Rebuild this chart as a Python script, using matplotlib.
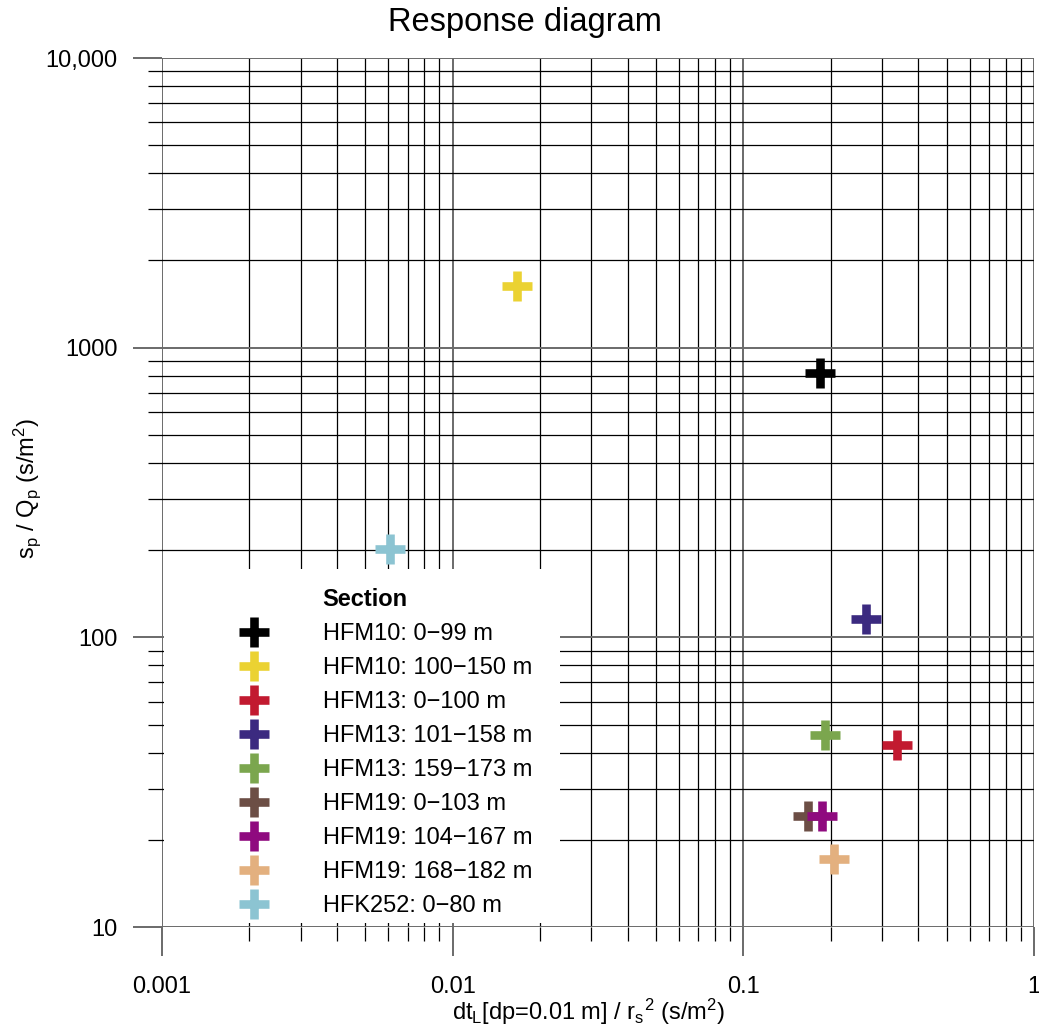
import matplotlib
matplotlib.use("Agg")
import matplotlib.pyplot as plt
from matplotlib.lines import Line2D
from matplotlib.patches import Rectangle
from matplotlib.ticker import FixedLocator, FixedFormatter, LogLocator, NullFormatter

plt.rcParams['font.family'] = ['Liberation Sans', 'DejaVu Sans']
plt.rcParams['mathtext.fontset'] = 'custom'
plt.rcParams['mathtext.rm'] = 'Liberation Sans'
plt.rcParams['mathtext.it'] = 'Liberation Sans:italic'
plt.rcParams['mathtext.default'] = 'regular'

# ---- data ----
sections = ["HFM10: 0\u221299 m", "HFM10: 100\u2212150 m", "HFM13: 0\u2212100 m",
            "HFM13: 101\u2212158 m", "HFM13: 159\u2212173 m", "HFM19: 0\u2212103 m",
            "HFM19: 104\u2212167 m", "HFM19: 168\u2212182 m", "HFK252: 0\u221280 m"]
dtL = [0.183, 0.0166, 0.338, 0.264, 0.191, 0.167, 0.186, 0.205, 0.0061]
spQp = [817, 1632, 42.5, 116, 46.0, 24.2, 24.2, 17.2, 202]
colors = ["#000000", "#EBD232", "#C21A30", "#3B2A80", "#7BA64E",
          "#6C4E45", "#8F0A7F", "#E3B07F", "#8CC4D2"]

x_ticks = [0.001, 0.01, 0.1, 1]
x_ticklabels = ["0.001", "0.01", "0.1", "1"]
y_ticks = [10, 100, 1000, 10000]
y_ticklabels = ["10", "100", "1000", "10,000"]

W, H = 1039, 1030
fig = plt.figure(figsize=(W / 100, H / 100), dpi=100)
L, R, T, B = 162, 1034, 58, 927
ax = fig.add_axes([L / W, 1 - B / H, (R - L) / W, (B - T) / H])
ax.set_xscale('log')
ax.set_yscale('log')
ax.set_xlim(0.001, 1)
ax.set_ylim(10, 10000)
for s in ax.spines.values():
    s.set_visible(False)

ax.xaxis.set_major_locator(FixedLocator(x_ticks))
ax.xaxis.set_major_formatter(FixedFormatter(x_ticklabels))
ax.yaxis.set_major_locator(FixedLocator(y_ticks))
ax.yaxis.set_major_formatter(FixedFormatter(y_ticklabels))
ax.xaxis.set_minor_locator(LogLocator(base=10, subs=range(2, 10)))
ax.yaxis.set_minor_locator(LogLocator(base=10, subs=range(2, 10)))
ax.xaxis.set_minor_formatter(NullFormatter())
ax.yaxis.set_minor_formatter(NullFormatter())

maj_c, maj_w = '#6a6a6a', 1.4
min_c, min_w = '#000000', 0.9
ax.grid(which='major', color=maj_c, lw=maj_w)
ax.grid(which='minor', color=min_c, lw=min_w)
ax.set_axisbelow(True)
ax.tick_params(which='major', direction='out', length=21, width=maj_w, color=maj_c,
               labelsize=17)
ax.tick_params(which='minor', direction='out', length=10, width=min_w, color=min_c)
ax.tick_params(axis='x', which='major', pad=14)
ax.tick_params(axis='y', which='major', pad=11)

# white legend background covering the grid
bg = Rectangle((164 / W, 1 - 923 / H), (560 - 164) / W, (923 - 569) / H,
               transform=fig.transFigure, facecolor='white', edgecolor='none', zorder=1)
ax.add_artist(bg)

for xv, yv, c, lab in zip(dtL, spQp, colors, sections):
    ax.plot([xv], [yv], linestyle='none', marker='+', ms=21.5, mew=6.2,
            color=c, label=lab, zorder=5, clip_on=False)

ax.set_xlabel(r"dt$_{L}$[dp=0.01 m] / r$_{s}$$^{2}$ (s/m$^{2}$)", fontsize=17)
ax.set_ylabel(r"s$_{p}$ / Q$_{p}$ (s/m$^{2}$)", fontsize=17)
ax.xaxis.set_label_coords(589 / W, 1 - 997 / H, transform=fig.transFigure)
ax.yaxis.set_label_coords(43 / W, 1 - 488 / H, transform=fig.transFigure)

fig.text(525 / W, 1 - 22 / H, "Response diagram", ha='center', va='center', fontsize=23.5)

handles, labels = ax.get_legend_handles_labels()
dummy = Line2D([], [], linestyle='none', marker=None)
leg = ax.legend([dummy] + handles, ["Section"] + labels, loc='upper left',
                bbox_to_anchor=(230 / W, 1 - 588 / H), bbox_transform=fig.transFigure,
                frameon=False, fontsize=17, handlelength=2.0, handletextpad=1.92,
                labelspacing=0.51, borderpad=0, borderaxespad=0)
leg.get_texts()[0].set_fontweight('bold')
leg.set_zorder(6)

fig.savefig("out.png", dpi=100)
